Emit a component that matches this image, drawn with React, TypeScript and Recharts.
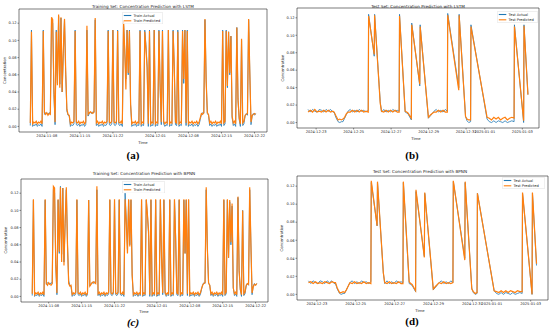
import React from "react";
import { LineChart, Line, XAxis, YAxis, Legend, ReferenceArea } from "recharts";

const BLUE = "#1f77b4";
const ORANGE = "#ff7f0e";
const FONT = "'DejaVu Sans', sans-serif";

// training set: one reading every 6 h, days counted from 2024-11-08
const trainStartDay = -3.5;
const trainStepDay = 0.25;

const trainActual = [
  0.001, 0.112, 0.0, 0.002, 0.001, 0.003, 0.0, 0.002,
  0.001, 0.003, 0.0, 0.112, 0.014, 0.016, 0.015, 0.014,
  0.016, 0.015, 0.124, 0.12, 0.037, 0.002, 0.112, 0.05,
  0.128, 0.049, 0.126, 0.04, 0.085, 0.124, 0.06, 0.018,
  0.013, 0.012, 0.0, 0.002, 0.001, 0.003, 0.112, 0.002,
  0.001, 0.003, 0.0, 0.002, 0.001, 0.003, 0.0, 0.002,
  0.112, 0.012, 0.015, 0.016, 0.015, 0.017, 0.016, 0.124,
  0.001, 0.003, 0.0, 0.002, 0.001, 0.003, 0.0, 0.002,
  0.001, 0.003, 0.112, 0.002, 0.001, 0.003, 0.112, 0.002,
  0.001, 0.003, 0.112, 0.002, 0.001, 0.003, 0.0, 0.12,
  0.09, 0.055, 0.112, 0.06, 0.112, 0.025, 0.0, 0.002,
  0.001, 0.003, 0.0, 0.002, 0.001, 0.112, 0.0, 0.002,
  0.001, 0.112, 0.095, 0.07, 0.0, 0.112, 0.0, 0.002,
  0.001, 0.112, 0.0, 0.002, 0.001, 0.112, 0.045, 0.002,
  0.112, 0.003, 0.0, 0.002, 0.001, 0.112, 0.0, 0.002,
  0.001, 0.112, 0.07, 0.002, 0.001, 0.112, 0.0, 0.002,
  0.001, 0.112, 0.05, 0.112, 0.001, 0.112, 0.0, 0.002,
  0.001, 0.003, 0.0, 0.002, 0.001, 0.003, 0.0, 0.002,
  0.008, 0.014, 0.016, 0.015, 0.124, 0.055, 0.015, 0.013,
  0.001, 0.003, 0.0, 0.002, 0.001, 0.003, 0.0, 0.002,
  0.001, 0.003, 0.0, 0.112, 0.001, 0.003, 0.112, 0.045,
  0.11, 0.06, 0.105, 0.01, 0.001, 0.003, 0.0, 0.115,
  0.03, 0.008, 0.0, 0.1, 0.001, 0.003, 0.012, 0.015,
  0.013, 0.124, 0.062, 0.002, 0.012, 0.015, 0.013, 0.015,
];

const lstmTrainPred = [
  0.004, 0.11, 0.003, 0.005, 0.004, 0.006, 0.003, 0.005,
  0.004, 0.006, 0.003, 0.111, 0.016, 0.014, 0.016, 0.013,
  0.015, 0.014, 0.127, 0.124, 0.045, 0.005, 0.11, 0.048,
  0.13, 0.045, 0.127, 0.04, 0.09, 0.125, 0.065, 0.02,
  0.014, 0.013, 0.003, 0.005, 0.004, 0.006, 0.111, 0.005,
  0.004, 0.006, 0.003, 0.005, 0.004, 0.006, 0.003, 0.005,
  0.117, 0.014, 0.016, 0.017, 0.016, 0.015, 0.017, 0.126,
  0.004, 0.006, 0.003, 0.005, 0.004, 0.006, 0.003, 0.005,
  0.004, 0.006, 0.111, 0.005, 0.004, 0.006, 0.112, 0.005,
  0.004, 0.006, 0.111, 0.005, 0.004, 0.006, 0.003, 0.123,
  0.09, 0.043, 0.112, 0.062, 0.111, 0.026, 0.003, 0.005,
  0.004, 0.006, 0.003, 0.005, 0.004, 0.111, 0.003, 0.005,
  0.004, 0.11, 0.09, 0.068, 0.003, 0.111, 0.003, 0.005,
  0.004, 0.112, 0.003, 0.005, 0.004, 0.111, 0.05, 0.005,
  0.111, 0.006, 0.003, 0.005, 0.004, 0.112, 0.003, 0.005,
  0.004, 0.111, 0.068, 0.005, 0.004, 0.11, 0.003, 0.005,
  0.004, 0.111, 0.055, 0.112, 0.004, 0.111, 0.003, 0.005,
  0.004, 0.006, 0.003, 0.005, 0.004, 0.006, 0.003, 0.005,
  0.01, 0.015, 0.014, 0.016, 0.125, 0.053, 0.016, 0.014,
  0.004, 0.006, 0.003, 0.005, 0.004, 0.006, 0.003, 0.005,
  0.004, 0.006, 0.003, 0.111, 0.004, 0.006, 0.111, 0.047,
  0.11, 0.062, 0.105, 0.012, 0.004, 0.006, 0.003, 0.115,
  0.032, 0.01, 0.003, 0.102, 0.004, 0.006, 0.013, 0.014,
  0.015, 0.125, 0.062, 0.005, 0.013, 0.014, 0.015, 0.014,
];

const bpnnTrainPred = [
  0.003, 0.113, 0.002, 0.004, 0.003, 0.005, 0.002, 0.004,
  0.003, 0.005, 0.002, 0.113, 0.015, 0.013, 0.016, 0.014,
  0.013, 0.015, 0.128, 0.126, 0.038, 0.004, 0.113, 0.052,
  0.127, 0.04, 0.126, 0.036, 0.088, 0.127, 0.06, 0.015,
  0.012, 0.013, 0.002, 0.004, 0.003, 0.005, 0.113, 0.004,
  0.003, 0.005, 0.002, 0.004, 0.003, 0.005, 0.002, 0.004,
  0.112, 0.012, 0.014, 0.016, 0.017, 0.016, 0.015, 0.128,
  0.003, 0.005, 0.002, 0.004, 0.003, 0.005, 0.002, 0.004,
  0.003, 0.005, 0.113, 0.004, 0.003, 0.005, 0.113, 0.004,
  0.003, 0.005, 0.113, 0.004, 0.003, 0.005, 0.002, 0.113,
  0.085, 0.05, 0.113, 0.058, 0.113, 0.025, 0.002, 0.004,
  0.003, 0.005, 0.002, 0.004, 0.003, 0.113, 0.002, 0.004,
  0.003, 0.113, 0.095, 0.075, 0.002, 0.113, 0.002, 0.004,
  0.003, 0.113, 0.002, 0.004, 0.003, 0.113, 0.045, 0.004,
  0.113, 0.005, 0.002, 0.004, 0.003, 0.113, 0.002, 0.004,
  0.003, 0.113, 0.065, 0.004, 0.003, 0.113, 0.002, 0.004,
  0.003, 0.113, 0.05, 0.113, 0.003, 0.113, 0.002, 0.004,
  0.003, 0.005, 0.002, 0.004, 0.003, 0.005, 0.002, 0.004,
  0.009, 0.013, 0.015, 0.016, 0.127, 0.055, 0.016, 0.013,
  0.003, 0.005, 0.002, 0.004, 0.003, 0.005, 0.002, 0.004,
  0.003, 0.005, 0.002, 0.113, 0.003, 0.005, 0.113, 0.045,
  0.112, 0.063, 0.108, 0.01, 0.003, 0.005, 0.002, 0.116,
  0.03, 0.008, 0.002, 0.1, 0.003, 0.005, 0.013, 0.015,
  0.014, 0.127, 0.062, 0.004, 0.011, 0.014, 0.013, 0.015,
];

const trainTickDays = [0, 7, 14, 23, 30, 37, 44];
const trainTickLabels = ["2024-11-08", "2024-11-15", "2024-11-22", "2024-12-01", "2024-12-08", "2024-12-15", "2024-12-22"];

// test set, days counted from 2024-12-23
const testDay = [
  -0.43, -0.31, -0.19, -0.07, 0.05, 0.17, 0.29, 0.41, 0.53, 0.65, 0.77, 0.89,
  0.96, 1.05, 1.17, 1.26, 1.35, 1.43, 1.52, 1.61, 1.7,
  1.82, 1.94, 2.06, 2.18, 2.3, 2.42, 2.54, 2.66, 2.78,
  2.8, 3.1, 3.12, 3.42, 3.49,
  3.61, 3.73, 3.85, 3.97, 4.09, 4.21, 4.33, 4.43,
  4.45, 4.75, 4.83, 4.9, 5.08, 5.1, 5.53, 5.55, 5.99, 6.11, 6.29,
  6.41, 6.53, 6.65, 6.77, 6.89, 7.0,
  7.02, 7.61, 7.63, 7.97, 8.05, 8.14, 8.24, 8.26, 9.12,
  9.24, 9.36, 9.48, 9.6, 9.72, 9.84, 9.96, 10.08, 10.2, 10.32, 10.44, 10.56,
  10.58, 11.07, 11.09, 11.3,
];

const testActual = [
  0.015, 0.012, 0.015, 0.013, 0.012, 0.015, 0.014, 0.012, 0.015, 0.013, 0.015, 0.012,
  0.012, 0.006, 0.001, 0.0, 0.001, 0.001, 0.005, 0.009, 0.013,
  0.015, 0.012, 0.014, 0.012, 0.015, 0.013, 0.014, 0.012, 0.014,
  0.124, 0.076, 0.124, 0.024, 0.012,
  0.015, 0.012, 0.014, 0.012, 0.015, 0.013, 0.014, 0.013,
  0.124, 0.012, 0.011, 0.01, 0.003, 0.114, 0.042, 0.112, 0.005, 0.008, 0.013,
  0.015, 0.012, 0.014, 0.012, 0.015, 0.013,
  0.125, 0.04, 0.124, 0.007, 0.002, 0.0, 0.001, 0.112, 0.004,
  0.001, 0.0, 0.002, 0.0, 0.002, 0.001, 0.0, 0.002, 0.0, 0.001, 0.002, 0.001,
  0.112, 0.0, 0.112, 0.032,
];

const lstmTestPred = [
  0.012, 0.014, 0.012, 0.015, 0.012, 0.013, 0.012, 0.014, 0.012, 0.014, 0.012, 0.013,
  0.012, 0.008, 0.003, 0.004, 0.003, 0.004, 0.006, 0.01, 0.012,
  0.012, 0.014, 0.012, 0.014, 0.012, 0.014, 0.012, 0.013, 0.012,
  0.122, 0.078, 0.123, 0.022, 0.013,
  0.012, 0.014, 0.012, 0.014, 0.012, 0.014, 0.012, 0.012,
  0.122, 0.013, 0.012, 0.011, 0.005, 0.112, 0.044, 0.11, 0.006, 0.009, 0.012,
  0.012, 0.014, 0.012, 0.014, 0.012, 0.012,
  0.123, 0.037, 0.123, 0.007, 0.004, 0.003, 0.003, 0.11, 0.006,
  0.005, 0.003, 0.006, 0.004, 0.006, 0.003, 0.005, 0.006, 0.003, 0.005, 0.006, 0.005,
  0.11, 0.002, 0.111, 0.032,
];

const bpnnTestPred = [
  0.013, 0.014, 0.012, 0.014, 0.012, 0.013, 0.012, 0.014, 0.013, 0.012, 0.014, 0.013,
  0.013, 0.007, 0.002, 0.002, 0.003, 0.002, 0.005, 0.009, 0.013,
  0.012, 0.014, 0.012, 0.013, 0.012, 0.014, 0.012, 0.013, 0.012,
  0.126, 0.076, 0.125, 0.024, 0.013,
  0.012, 0.014, 0.012, 0.013, 0.012, 0.014, 0.012, 0.012,
  0.125, 0.014, 0.012, 0.011, 0.004, 0.116, 0.041, 0.113, 0.006, 0.009, 0.013,
  0.012, 0.014, 0.012, 0.013, 0.012, 0.013,
  0.126, 0.038, 0.125, 0.006, 0.003, 0.001, 0.002, 0.112, 0.004,
  0.003, 0.002, 0.004, 0.002, 0.004, 0.002, 0.004, 0.003, 0.002, 0.004, 0.003, 0.003,
  0.113, 0.0, 0.113, 0.034,
];

const testTickDays = [0, 2, 4, 6, 8, 9, 11];
const testTickLabels = ["2024-12-23", "2024-12-25", "2024-12-27", "2024-12-29", "2024-12-31", "2025-01-01", "2025-01-03"];

const concentrationTicks = [0, 0.02, 0.04, 0.06, 0.08, 0.1, 0.12];

const trainRows = trainActual.map((actual, i) => ({
  day: trainStartDay + i * trainStepDay,
  actual,
  lstm: lstmTrainPred[i],
  bpnn: bpnnTrainPred[i],
}));

const testRows = testDay.map((day, i) => ({
  day,
  actual: testActual[i],
  lstm: lstmTestPred[i],
  bpnn: bpnnTestPred[i],
}));

const trainXDomain = [-5.89, 46.64];
const testXDomain = [-1.02, 11.89];
const trainYDomain = [-0.0065, 0.1365];
const testYDomain = [-0.00625, 0.13125];

const tickStyle = { fontSize: 3.6, fill: "#222", fontFamily: FONT };

const legendContent = (box) => (props) => {
  const payload = props.payload || [];
  return (
    <svg width={box.w} height={box.h} style={{ display: "block" }}>
      <rect x={0.25} y={0.25} width={box.w - 0.5} height={box.h - 0.5} rx={1.2}
        fill="#fff" fillOpacity={0.8} stroke="#d4d4d4" strokeWidth={0.5} />
      {payload.map((p, i) => (
        <g key={p.value}>
          <line x1={1.8} x2={9.3} y1={3.5 + i * 5.3} y2={3.5 + i * 5.3} stroke={p.color} strokeWidth={1.1} />
          <text x={11.6} y={3.5 + i * 5.3} dy="0.35em" fontSize={3.6} fontFamily={FONT} fill="#222">
            {p.value}
          </text>
        </g>
      ))}
    </svg>
  );
};

function Panel({ left, top, width, height, frame, rows, predKey, xDomain, yDomain, tickDays, tickLabels, names, legend }) {
  const labelFor = (v) => {
    const k = tickDays.indexOf(v);
    return k >= 0 ? tickLabels[k] : "";
  };
  return (
    <div style={{ position: "absolute", left, top }}>
      <LineChart
        width={width}
        height={height}
        data={rows}
        margin={{ top: frame.top, right: width - frame.right, bottom: 0, left: 0 }}
      >
        <XAxis
          type="number"
          dataKey="day"
          domain={xDomain}
          allowDataOverflow
          ticks={tickDays}
          interval={0}
          tickFormatter={labelFor}
          tick={tickStyle}
          tickSize={1.5}
          tickMargin={1}
          axisLine={false}
          tickLine={{ stroke: "#222", strokeWidth: 0.5 }}
          height={height - frame.bottom}
        />
        <YAxis
          type="number"
          domain={yDomain}
          allowDataOverflow
          ticks={concentrationTicks}
          interval={0}
          tickFormatter={(v) => v.toFixed(2)}
          tick={tickStyle}
          tickSize={1.5}
          tickMargin={1}
          axisLine={false}
          tickLine={{ stroke: "#222", strokeWidth: 0.5 }}
          width={frame.left}
        />
        <Line type="linear" dataKey="actual" name={names[0]} stroke={BLUE} strokeWidth={0.8}
          dot={false} activeDot={false} isAnimationActive={false} />
        <Line type="linear" dataKey={predKey} name={names[1]} stroke={ORANGE} strokeWidth={1.2}
          dot={false} activeDot={false} isAnimationActive={false} />
        <ReferenceArea x1={xDomain[0]} x2={xDomain[1]} y1={yDomain[0]} y2={yDomain[1]}
          fill="none" fillOpacity={0} stroke="#222" strokeWidth={0.6} ifOverflow="visible" />
        <Legend
          layout="vertical"
          align="center"
          verticalAlign="middle"
          content={legendContent(legend)}
          wrapperStyle={{ left: legend.x, top: legend.y, width: legend.w, height: legend.h }}
        />
      </LineChart>
    </div>
  );
}

const overlayTexts = [
  { x: 143, y: 6, t: "Training Set: Concentration Prediction with LSTM", s: 4.2 },
  { x: 143, y: 142.7, t: "Time", s: 3.8 },
  { x: 418, y: 6, t: "Test Set: Concentration Prediction with LSTM", s: 4.2 },
  { x: 416, y: 138, t: "Time", s: 3.8 },
  { x: 144, y: 173.7, t: "Training Set: Concentration Prediction with BPNN", s: 4.2 },
  { x: 144, y: 311, t: "Time", s: 3.8 },
  { x: 420, y: 171.8, t: "Test Set: Concentration Prediction with BPNN", s: 4.2 },
  { x: 420, y: 310, t: "Time", s: 3.8 },
];

const yTitles = [
  { x: 4, y: 70.5 },
  { x: 282, y: 68 },
  { x: 5, y: 240 },
  { x: 281, y: 238 },
];

const panelLetters = [
  { x: 133, y: 155, t: "(a)", italic: false },
  { x: 412, y: 155, t: "(b)", italic: false },
  { x: 133, y: 322, t: "(c)", italic: true },
  { x: 412, y: 321, t: "(d)", italic: false },
];

export default function App() {
  return (
    <div style={{ position: "fixed", left: 0, top: 0, width: 550, height: 334, background: "#fff", overflow: "hidden" }}>
      <Panel left={0} top={0} width={275} height={150}
        frame={{ left: 19, right: 267, top: 9, bottom: 132 }}
        rows={trainRows} predKey="lstm" xDomain={trainXDomain} yDomain={trainYDomain}
        tickDays={trainTickDays} tickLabels={trainTickLabels}
        names={["Train Actual", "Train Predicted"]}
        legend={{ x: 122, y: 11.7, w: 41, h: 12.3 }} />
      <Panel left={275} top={0} width={275} height={146}
        frame={{ left: 22, right: 264, top: 8, bottom: 128 }}
        rows={testRows} predKey="lstm" xDomain={testXDomain} yDomain={testYDomain}
        tickDays={testTickDays} tickLabels={testTickLabels}
        names={["Test Actual", "Test Predicted"]}
        legend={{ x: 222, y: 11, w: 41, h: 12 }} />
      <Panel left={0} top={167} width={275} height={153}
        frame={{ left: 21, right: 268, top: 12, bottom: 135 }}
        rows={trainRows} predKey="bpnn" xDomain={trainXDomain} yDomain={trainYDomain}
        tickDays={trainTickDays} tickLabels={trainTickLabels}
        names={["Train Actual", "Train Predicted"]}
        legend={{ x: 122, y: 13.5, w: 43, h: 12.5 }} />
      <Panel left={275} top={167} width={275} height={151}
        frame={{ left: 22, right: 273, top: 9, bottom: 133 }}
        rows={testRows} predKey="bpnn" xDomain={testXDomain} yDomain={testYDomain}
        tickDays={testTickDays} tickLabels={testTickLabels}
        names={["Test Actual", "Test Predicted"]}
        legend={{ x: 227, y: 10, w: 43, h: 12 }} />
      <svg width={550} height={334} style={{ position: "absolute", left: 0, top: 0, pointerEvents: "none" }}>
        {overlayTexts.map((o) => (
          <text key={o.t + o.y} x={o.x} y={o.y} fontSize={o.s} fontFamily={FONT} fill="#222"
            textAnchor="middle" dominantBaseline="central">
            {o.t}
          </text>
        ))}
        {yTitles.map((o) => (
          <text key={"c" + o.y} x={o.x} y={o.y} fontSize={3.8} fontFamily={FONT} fill="#222"
            textAnchor="middle" dominantBaseline="central" transform={`rotate(-90 ${o.x} ${o.y})`}>
            Concentration
          </text>
        ))}
        {panelLetters.map((o) => (
          <text key={o.t} x={o.x} y={o.y} fontSize={11} fontFamily="'Liberation Serif', serif"
            fontWeight="bold" fontStyle={o.italic ? "italic" : "normal"} fill="#000"
            textAnchor="middle" dominantBaseline="central">
            {o.t}
          </text>
        ))}
      </svg>
    </div>
  );
}
